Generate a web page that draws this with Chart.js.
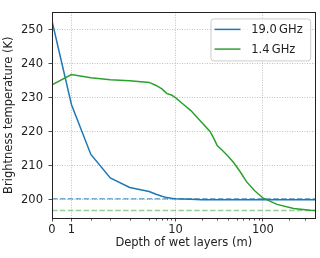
<!DOCTYPE html>
<html>
<head>
<meta charset="utf-8">
<script src="https://cdn.jsdelivr.net/npm/chart.js@4.4.0/dist/chart.umd.min.js"></script>
<style>
html, body { margin: 0; padding: 0; background: #fff; }
#wrap { width: 320px; height: 258px; }
</style>
</head>
<body>
<div id="wrap"><canvas id="tbChart"></canvas></div>
<script>
// profundidad de las capas humedas (m)
const depths = [0, 1, 2, 3, 4, 5, 6, 7, 8, 9, 10, 12, 15, 20, 25, 28, 30, 35, 40, 46, 55, 65, 80, 100, 145, 225, 350, 400];
// temperatura de brillo (K) para cada profundidad
const tb19 = [252.6, 228.0, 213.3, 206.4, 203.6, 202.4, 201.6, 201.0, 200.6, 200.4, 200.3, 200.2, 200.1, 200.0, 200.0, 200.0, 200.0, 200.0, 200.0, 200.0, 200.0, 200.0, 200.0, 200.0, 200.0, 200.0, 200.0, 200.0];
const tb14 = [233.8, 236.8, 235.9, 235.3, 235.0, 234.5, 233.6, 232.6, 231.2, 230.8, 230.0, 228.3, 226.2, 222.7, 220.0, 217.6, 215.9, 214.3, 212.8, 211.0, 208.2, 205.3, 202.7, 200.5, 198.6, 197.4, 196.9, 196.8];
// niveles de referencia (lineas discontinuas)
const nivel19 = 200.3;
const nivel14 = 196.8;
const etiquetas = ['19.0\u2009GHz', '1.4\u2009GHz'];
const xTicksMayores = [0, 1, 10, 100];
const xTicksMenores = [2, 3, 4, 5, 6, 7, 8, 9, 20, 30, 40, 50, 60, 70, 80, 90, 200, 300];
const yTicks = [200, 210, 220, 230, 240, 250];
const xMin = 0, xMax = 400;
const yMin = 194.6, yMax = 255.1;

const AZUL = '#1f77b4';
const VERDE = '#2ca02c';
const FUENTE = 'DejaVu Sans';

// escala symlog como la de matplotlib (linthresh 5, linscale 1)
const LINTHRESH = 5;
const LINADJ = 1 / (1 - 1 / 10);
function symlog(v) {
    const a = Math.abs(v);
    if (a <= LINTHRESH) return v * LINADJ;
    return Math.sign(v) * LINTHRESH * (LINADJ + Math.log10(a / LINTHRESH));
}
function symlogInv(t) {
    const a = Math.abs(t);
    if (a <= LINTHRESH * LINADJ) return t / LINADJ;
    return Math.sign(t) * LINTHRESH * Math.pow(10, a / LINTHRESH - LINADJ);
}

class SymlogScale extends Chart.LinearScale {
    configure() {
        super.configure();
        this._tStart = symlog(this.min);
        this._tRange = symlog(this.max) - this._tStart;
    }
    getPixelForValue(value) {
        if (value === null || value === undefined) return NaN;
        return this.getPixelForDecimal((symlog(value) - this._tStart) / this._tRange);
    }
    getValueForPixel(pixel) {
        return symlogInv(this._tStart + this.getDecimalForPixel(pixel) * this._tRange);
    }
}
SymlogScale.id = 'symlog';
SymlogScale.defaults = Chart.LinearScale.defaults;
Chart.register(SymlogScale);

function puntos(ys) {
    return depths.map((d, i) => ({ x: d, y: ys[i] }));
}

// marco completo + ticks menores + leyenda
const marcoPlugin = {
    id: 'marco',
    afterDatasetsDraw(chart) {
        const { ctx, chartArea: a } = chart;
        const l = Math.floor(a.left) + 0.5, r = Math.floor(a.right) + 0.5;
        const t = Math.floor(a.top) + 0.5, b = Math.floor(a.bottom) + 0.5;
        ctx.save();
        ctx.strokeStyle = '#222';
        ctx.lineWidth = 1;
        ctx.strokeRect(l, t, r - l, b - t);
        // ticks menores del eje x
        const xs = chart.scales.x;
        ctx.lineWidth = 0.8;
        xTicksMenores.forEach(v => {
            const px = Math.round(xs.getPixelForValue(v)) + 0.5;
            ctx.beginPath();
            ctx.moveTo(px, b);
            ctx.lineTo(px, b + 2);
            ctx.stroke();
        });
        ctx.restore();
    },
    afterDraw(chart) {
        const { ctx, chartArea: a } = chart;
        const w = 99.7, h = 42;
        const bx = a.right - 5.3 - w, by = a.top + 6;
        ctx.save();
        ctx.beginPath();
        ctx.roundRect(bx + 0.5, by + 0.5, w, h, 3);
        ctx.fillStyle = 'rgba(255,255,255,0.8)';
        ctx.fill();
        ctx.strokeStyle = '#cccccc';
        ctx.lineWidth = 1;
        ctx.stroke();
        const filas = chart.data.datasets.filter(d => d.enLeyenda);
        filas.forEach((d, i) => {
            const y = by + 11 + i * 19.7;
            ctx.beginPath();
            ctx.strokeStyle = d.borderColor;
            ctx.lineWidth = 1.5;
            ctx.moveTo(bx + 4, y);
            ctx.lineTo(bx + 30, y);
            ctx.stroke();
            ctx.fillStyle = '#222';
            ctx.font = '11.5px "' + FUENTE + '"';
            ctx.textBaseline = 'middle';
            ctx.textAlign = 'left';
            ctx.fillText(d.label, bx + 40.7, y + 0.5);
        });
        ctx.restore();
    }
};

const ctx = document.getElementById('tbChart').getContext('2d');
const tbChart = new Chart(ctx, {
    type: 'line',
    data: {
        datasets: [
            { label: etiquetas[0], data: puntos(tb19), borderColor: AZUL, borderWidth: 1.5, pointRadius: 0, order: 4, enLeyenda: true },
            { label: etiquetas[1], data: puntos(tb14), borderColor: VERDE, borderWidth: 1.5, pointRadius: 0, order: 3, enLeyenda: true },
            { label: 'nivel19', data: [{ x: xMin, y: nivel19 }, { x: xMax, y: nivel19 }], borderColor: 'rgba(31,119,180,0.6)', borderWidth: 1.5, borderDash: [5.5, 2.4], pointRadius: 0, order: 2 },
            { label: 'nivel14', data: [{ x: xMin, y: nivel14 }, { x: xMax, y: nivel14 }], borderColor: 'rgba(44,160,44,0.5)', borderWidth: 1.5, borderDash: [5.5, 2.4], pointRadius: 0, order: 1 }
        ]
    },
    options: {
        responsive: true,
        maintainAspectRatio: false,
        animation: false,
        layout: { padding: { top: 4, right: 4.5, left: 0, bottom: 0 } },
        plugins: { legend: { display: false }, tooltip: { enabled: false } },
        scales: {
            x: {
                type: 'symlog',
                min: xMin,
                max: xMax,
                bounds: 'data',
                afterBuildTicks: (s) => { s.ticks = xTicksMayores.map(v => ({ value: v })); },
                afterFit: (s) => { s.height = 40; },
                ticks: {
                    autoSkip: false,
                    maxRotation: 0,
                    padding: 2,
                    color: '#222',
                    font: { family: FUENTE, size: 11.5 },
                    callback: (v) => String(v)
                },
                grid: { color: '#b0b0b0', lineWidth: 0.8, tickColor: '#222', tickLength: 3.5, tickWidth: 0.8 },
                border: { display: false, dash: [1, 1.5] },
                title: {
                    display: true,
                    text: 'Depth of wet layers (m)',
                    color: '#222',
                    font: { family: FUENTE, size: 11.5 },
                    padding: { top: 0, bottom: 7.6 }
                }
            },
            y: {
                min: yMin,
                max: yMax,
                bounds: 'data',
                afterBuildTicks: (s) => { s.ticks = yTicks.map(v => ({ value: v })); },
                afterFit: (s) => { s.width = 52; },
                ticks: {
                    padding: 5.5,
                    color: '#222',
                    font: { family: FUENTE, size: 11.5 },
                    callback: (v) => String(v)
                },
                grid: { color: '#b0b0b0', lineWidth: 0.8, tickColor: '#222', tickLength: 3.5, tickWidth: 0.8 },
                border: { display: false, dash: [1, 1.5] },
                title: {
                    display: true,
                    text: 'Brightness temperature (K)',
                    color: '#222',
                    font: { family: FUENTE, size: 11.5 },
                    padding: { top: 2, bottom: 0 }
                }
            }
        }
    },
    plugins: [marcoPlugin]
});
</script>
</body>
</html>
